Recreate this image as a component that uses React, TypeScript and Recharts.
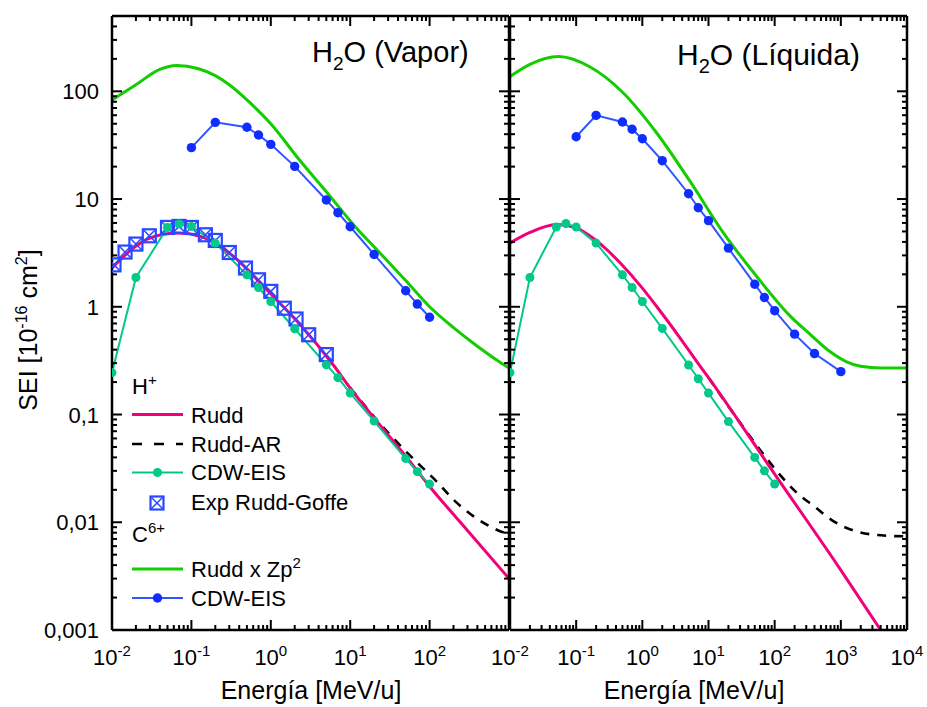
import React from 'react';
import { LineChart, Line, XAxis, YAxis } from 'recharts';

const FONT = '"Liberation Sans", Arial, Helvetica, sans-serif';

const PINK = '#f2007a';
const GREEN = '#14cc00';
const TEAL = '#00c98a';
const BLUE_LINE = '#2f55ff';
const BLUE_DOT = '#0f2dff';
const SQUARE = '#2a48ff';

// ---- axes
const yMajorTicks = [0.001, 0.01, 0.1, 1, 10, 100];
const yTickLabels = ['0,001', '0,01', '0,1', '1', '10', '100'];
const yDomain: [number, number] = [0.001, 500];

const xMajorLeft = [0.01, 0.1, 1, 10, 100, 1000];
const xExpLeft = ['-2', '-1', '0', '1', '2'];
const xMajorRight = [0.01, 0.1, 1, 10, 100, 1000, 10000];
const xExpRight = ['-2', '-1', '0', '1', '2', '3', '4'];

// ---- H2O vapor (left)
const vapRuddE = [0.01, 0.0185, 0.03, 0.068, 0.13, 0.34, 0.89, 2.35, 6.2, 10, 20, 50, 100, 300, 1000];
const vapRudd = [2.29, 3.5, 4.35, 4.83, 4.5, 2.93, 1.44, 0.68, 0.285, 0.176, 0.093, 0.041, 0.0215, 0.0084, 0.003];

const vapRuddArE = [10, 20, 35, 72, 122, 200, 355, 660, 1000];
const vapRuddAr = [0.177, 0.095, 0.06, 0.035, 0.024, 0.0162, 0.0114, 0.0087, 0.0077];

const vapCdwE = [0.01, 0.02, 0.05, 0.07, 0.1, 0.2, 0.5, 0.7, 1, 2, 5, 7, 10, 20, 50, 70, 100];
const vapCdw = [0.245, 1.87, 5.45, 5.86, 5.57, 3.9, 1.98, 1.51, 1.12, 0.625, 0.29, 0.22, 0.158, 0.087, 0.039, 0.0295, 0.0226];

const vapExpE = [0.0106, 0.0146, 0.02, 0.0295, 0.05, 0.07, 0.1, 0.15, 0.2, 0.3, 0.48, 0.7, 1.0, 1.48, 2.08, 3.0, 5.0];
const vapExp = [2.45, 3.22, 3.82, 4.56, 5.45, 5.57, 5.45, 4.66, 4.13, 3.19, 2.29, 1.78, 1.39, 0.97, 0.77, 0.55, 0.36];

const vapZpE = [0.01, 0.02, 0.04, 0.065, 0.12, 0.2, 0.3, 0.55, 1, 2.3, 5, 12.6, 20, 50, 100, 200, 400, 700, 1000];
const vapZp = [83, 115, 160, 174, 163, 140, 115, 78, 50, 23, 11.7, 5.15, 3.6, 1.75, 1.0, 0.64, 0.43, 0.32, 0.27];

const vapC6E = [0.1, 0.2, 0.5, 0.7, 1, 2, 5, 7, 10, 20, 50, 70, 100];
const vapC6 = [30, 51.5, 46.4, 39.3, 32.2, 20.1, 9.8, 7.47, 5.53, 3.06, 1.41, 1.06, 0.8];

// ---- H2O liquid (right)
const liqRuddE = [0.01, 0.02, 0.051, 0.1, 0.19, 0.3, 0.46, 1, 1.66, 3.7, 6.7, 10, 100, 1000, 4000];
const liqRudd = [3.9, 4.9, 5.8, 5.4, 4.23, 3.33, 2.56, 1.49, 1.0, 0.515, 0.308, 0.22, 0.028, 0.0036, 0.001];

const liqRuddArE = [10, 27, 76, 108, 220, 400, 780, 1740, 4900, 10000];
const liqRuddAr = [0.22, 0.092, 0.039, 0.0298, 0.0186, 0.014, 0.0102, 0.0082, 0.0075, 0.0074];

const liqCdwE = [0.01, 0.02, 0.05, 0.07, 0.1, 0.2, 0.5, 0.7, 1, 2, 5, 7, 10, 20, 50, 70, 100];
const liqCdw = [0.245, 1.87, 5.5, 5.93, 5.5, 3.9, 1.98, 1.51, 1.12, 0.63, 0.288, 0.215, 0.158, 0.086, 0.04, 0.03, 0.0226];

const liqZpE = [0.01, 0.02, 0.054, 0.16, 0.52, 1.66, 5.3, 17, 54, 175, 350, 700, 1200, 2000, 4000, 10000];
const liqZp = [137, 178, 210, 169, 96, 40.8, 14.5, 4.8, 1.9, 0.81, 0.55, 0.38, 0.31, 0.28, 0.27, 0.27];

const liqC6E = [0.1, 0.2, 0.5, 0.7, 1, 2, 5, 7, 10, 20, 50, 70, 100, 200, 400, 1000];
const liqC6 = [37.9, 59.8, 51.9, 44.4, 36.3, 22.7, 11.2, 8.3, 6.3, 3.5, 1.62, 1.22, 0.92, 0.557, 0.368, 0.25];

type Pt = { x: number; y: number };
const zip = (xs: number[], ys: number[]): Pt[] => xs.map((x, i) => ({ x, y: ys[i] }));

const isMajor = (v: number) => Math.abs(Math.log10(v) - Math.round(Math.log10(v))) < 1e-6;
const withMinors = (majors: number[], top: number) =>
  majors.flatMap((m) => [1, 2, 3, 4, 5, 6, 7, 8, 9].map((k) => k * m)).filter((v) => v <= top * 1.0001);

const findIdx = (list: number[], v: number) => list.findIndex((m) => Math.abs(m - v) / m < 1e-6);

const tealDot = (p: any) =>
  p.cx == null ? <g key={`t${p.index}`} /> : <circle key={`t${p.index}`} cx={p.cx} cy={p.cy} r={4.5} fill={TEAL} />;
const blueDot = (p: any) =>
  p.cx == null ? <g key={`b${p.index}`} /> : <circle key={`b${p.index}`} cx={p.cx} cy={p.cy} r={4.7} fill={BLUE_DOT} />;

function SquareX({ cx, cy, s = 6.5 }: { cx: number; cy: number; s?: number }) {
  return (
    <g>
      <rect x={cx - s} y={cy - s} width={2 * s} height={2 * s} fill="none" stroke={SQUARE} strokeWidth={2.2} />
      <line x1={cx - s} y1={cy - s} x2={cx + s} y2={cy + s} stroke={SQUARE} strokeWidth={1.5} />
      <line x1={cx - s} y1={cy + s} x2={cx + s} y2={cy - s} stroke={SQUARE} strokeWidth={1.5} />
    </g>
  );
}
const squareDot = (p: any) =>
  p.cx == null ? <g key={`s${p.index}`} /> : <g key={`s${p.index}`}><SquareX cx={p.cx} cy={p.cy} /></g>;

const tickStroke = { stroke: '#000', strokeWidth: 2 };

const bottomTick = (majors: number[], exps: string[]) => (p: any) => {
  const v = p.payload.value;
  const major = isMajor(v);
  const i = findIdx(majors, v);
  return (
    <g key={`bt${v}`}>
      <line x1={p.x} x2={p.x} y1={p.y} y2={p.y - (major ? 10 : 5)} {...tickStroke} />
      {i >= 0 && exps[i] !== undefined && (
        <text x={p.x} y={p.y + 35} textAnchor="middle" fontFamily={FONT} fontSize={22} fill="#000">
          10<tspan dy={-9} fontSize={15}>{exps[i]}</tspan>
        </text>
      )}
    </g>
  );
};

const topTick = (p: any) => {
  const major = isMajor(p.payload.value);
  return <line key={`tt${p.payload.value}`} x1={p.x} x2={p.x} y1={p.y} y2={p.y + (major ? 10 : 5)} {...tickStroke} />;
};

const leftTick = (labels: boolean) => (p: any) => {
  const v = p.payload.value;
  const major = isMajor(v);
  const i = findIdx(yMajorTicks, v);
  return (
    <g key={`lt${v}`}>
      <line x1={p.x} x2={p.x + (major ? 10 : 5)} y1={p.y} y2={p.y} {...tickStroke} />
      {labels && i >= 0 && (
        <text x={p.x - 13} y={p.y + 8} textAnchor="end" fontFamily={FONT} fontSize={22} fill="#000">
          {yTickLabels[i]}
        </text>
      )}
    </g>
  );
};

const rightTick = (p: any) => {
  const major = isMajor(p.payload.value);
  return <line key={`rt${p.payload.value}`} x1={p.x} x2={p.x - (major ? 10 : 5)} y1={p.y} y2={p.y} {...tickStroke} />;
};

const axisLine = { stroke: '#000', strokeWidth: 2.5 };

function panel(opts: {
  left: number;
  width: number;
  marginLeft: number;
  marginRight: number;
  yAxisWidth: number;
  yLabels: boolean;
  xDomain: [number, number];
  xMajor: number[];
  xExp: string[];
  ruddAr: Pt[];
  rudd: Pt[];
  zp: Pt[];
  c6: Pt[];
  exp: Pt[] | null;
  cdw: Pt[];
}) {
  const xTicks = withMinors(opts.xMajor, opts.xDomain[1]);
  const yTicks = withMinors(yMajorTicks, yDomain[1]);
  return (
    <div style={{ position: 'absolute', left: opts.left, top: 0 }}>
      <LineChart
        width={opts.width}
        height={707}
        margin={{ top: 15, right: opts.marginRight, bottom: 37, left: opts.marginLeft }}
      >
        <XAxis
          dataKey="x"
          type="number"
          scale="log"
          domain={opts.xDomain}
          allowDataOverflow
          ticks={xTicks}
          interval={0}
          height={40}
          tickSize={0}
          tickMargin={0}
          tickLine={false}
          axisLine={axisLine}
          tick={bottomTick(opts.xMajor, opts.xExp)}
        />
        <XAxis
          xAxisId="top"
          orientation="top"
          dataKey="x"
          type="number"
          scale="log"
          domain={opts.xDomain}
          allowDataOverflow
          ticks={xTicks}
          interval={0}
          height={1}
          tickSize={0}
          tickMargin={0}
          tickLine={false}
          axisLine={axisLine}
          tick={topTick}
        />
        <YAxis
          type="number"
          scale="log"
          domain={yDomain}
          allowDataOverflow
          ticks={yTicks}
          interval={0}
          width={opts.yAxisWidth}
          tickSize={0}
          tickMargin={0}
          tickLine={false}
          axisLine={axisLine}
          tick={leftTick(opts.yLabels)}
        />
        <YAxis
          yAxisId="right"
          orientation="right"
          type="number"
          scale="log"
          domain={yDomain}
          allowDataOverflow
          ticks={yTicks}
          interval={0}
          width={1}
          tickSize={0}
          tickMargin={0}
          tickLine={false}
          axisLine={axisLine}
          tick={rightTick}
        />
        <Line data={opts.ruddAr} dataKey="y" type="monotone" stroke="#000" strokeWidth={2.6}
          strokeDasharray="9 8" dot={false} activeDot={false} isAnimationActive={false} />
        <Line data={opts.rudd} dataKey="y" type="monotone" stroke={PINK} strokeWidth={3}
          dot={false} activeDot={false} isAnimationActive={false} />
        <Line data={opts.zp} dataKey="y" type="monotone" stroke={GREEN} strokeWidth={3}
          dot={false} activeDot={false} isAnimationActive={false} />
        <Line data={opts.c6} dataKey="y" type="linear" stroke={BLUE_LINE} strokeWidth={2}
          dot={blueDot} activeDot={false} isAnimationActive={false} />
        {opts.exp && (
          <Line data={opts.exp} dataKey="y" type="linear" stroke="none"
            dot={squareDot} activeDot={false} isAnimationActive={false} />
        )}
        <Line data={opts.cdw} dataKey="y" type="linear" stroke={TEAL} strokeWidth={2}
          dot={tealDot} activeDot={false} isAnimationActive={false} />
      </LineChart>
    </div>
  );
}

function Legend() {
  const lx1 = 132;
  const lx2 = 183;
  const tx = 191;
  const fs = 22;
  return (
    <g fontFamily={FONT} fontSize={fs} fill="#000">
      <text x={132} y={394}>H<tspan dy={-9} fontSize={15}>+</tspan></text>

      <line x1={lx1} x2={lx2} y1={414.5} y2={414.5} stroke={PINK} strokeWidth={3} />
      <text x={tx} y={422.5}>Rudd</text>

      <line x1={lx1} x2={lx2} y1={444} y2={444} stroke="#000" strokeWidth={2.6} strokeDasharray="10 12" />
      <text x={tx} y={452}>Rudd-AR</text>

      <line x1={lx1} x2={lx2} y1={472.5} y2={472.5} stroke={TEAL} strokeWidth={2} />
      <circle cx={157.5} cy={472.5} r={4.5} fill={TEAL} />
      <text x={tx} y={480}>CDW-EIS</text>

      <SquareX cx={157} cy={503} />
      <text x={tx} y={509.5}>Exp Rudd-Goffe</text>

      <text x={132} y={542}>C<tspan dy={-9} fontSize={15}>6+</tspan></text>

      <line x1={lx1} x2={lx2} y1={569} y2={569} stroke={GREEN} strokeWidth={3} />
      <text x={tx} y={577}>Rudd x Zp<tspan dy={-9} fontSize={15}>2</tspan></text>

      <line x1={lx1} x2={lx2} y1={598} y2={598} stroke={BLUE_LINE} strokeWidth={2} />
      <circle cx={157.5} cy={598} r={4.7} fill={BLUE_DOT} />
      <text x={tx} y={605.5}>CDW-EIS</text>
    </g>
  );
}

export default function App() {
  return (
    <div style={{ position: 'absolute', left: 0, top: 0, width: 927, height: 707, background: '#fff', fontFamily: FONT }}>
      {panel({
        left: 0,
        width: 520,
        marginLeft: 12,
        marginRight: 10,
        yAxisWidth: 100,
        yLabels: true,
        xDomain: [0.01, 1000],
        xMajor: xMajorLeft,
        xExp: xExpLeft,
        ruddAr: zip(vapRuddArE, vapRuddAr),
        rudd: zip(vapRuddE, vapRudd),
        zp: zip(vapZpE, vapZp),
        c6: zip(vapC6E, vapC6),
        exp: zip(vapExpE, vapExp),
        cdw: zip(vapCdwE, vapCdw),
      })}
      {panel({
        left: 480,
        width: 447,
        marginLeft: 29,
        marginRight: 19,
        yAxisWidth: 1,
        yLabels: false,
        xDomain: [0.01, 10000],
        xMajor: xMajorRight,
        xExp: xExpRight,
        ruddAr: zip(liqRuddArE, liqRuddAr),
        rudd: zip(liqRuddE, liqRudd),
        zp: zip(liqZpE, liqZp),
        c6: zip(liqC6E, liqC6),
        exp: null,
        cdw: zip(liqCdwE, liqCdw),
      })}
      <svg width={927} height={707} style={{ position: 'absolute', left: 0, top: 0, pointerEvents: 'none' }}>
        <text x={312} y={62} fontFamily={FONT} fontSize={29} fill="#000">
          H<tspan dy={8} fontSize={19}>2</tspan><tspan dy={-8}>O (Vapor)</tspan>
        </text>
        <text x={677} y={65} fontFamily={FONT} fontSize={30} fill="#000">
          H<tspan dy={8} fontSize={20}>2</tspan><tspan dy={-8}>O (Líquida)</tspan>
        </text>
        <text x={311} y={699} textAnchor="middle" fontFamily={FONT} fontSize={25} fill="#000">Energía [MeV/u]</text>
        <text x={694} y={699} textAnchor="middle" fontFamily={FONT} fontSize={25} fill="#000">Energía [MeV/u]</text>
        <text transform="translate(37,330) rotate(-90)" textAnchor="middle" fontFamily={FONT} fontSize={25} fill="#000">
          SEI [10<tspan dy={-10} fontSize={16}>-16</tspan><tspan dy={10}> cm</tspan>
          <tspan dy={-10} fontSize={16}>2</tspan><tspan dy={10}>]</tspan>
        </text>
        <Legend />
      </svg>
    </div>
  );
}
